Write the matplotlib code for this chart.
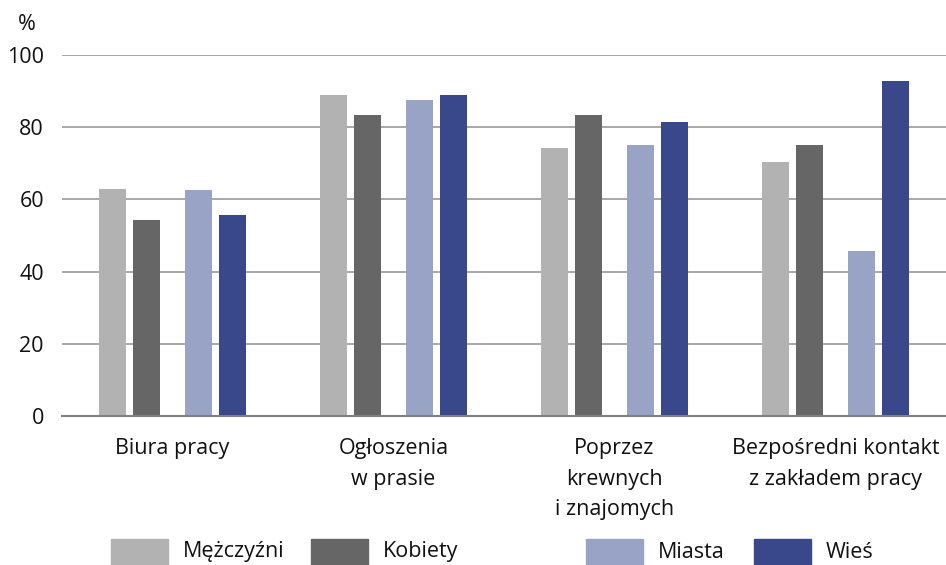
import matplotlib
matplotlib.use("Agg")
import matplotlib.pyplot as plt
import matplotlib.patches as mpatches
import numpy as np

plt.rcParams['font.family'] = ['Open Sans', 'DejaVu Sans']

categories = ["Biura pracy", "Ogłoszenia\nw prasie", "Poprzez\nkrewnych\ni znajomych",
              "Bezpośredni kontakt\nz zakładem pracy"]
series_names = ["Mężczyźni", "Kobiety", "Miasta", "Wieś"]
mezczyzni = [62.9, 88.9, 74.2, 70.4]
kobiety = [54.3, 83.4, 83.4, 75.1]
miasta = [62.6, 87.5, 75.1, 45.7]
wies = [55.7, 88.9, 81.4, 92.8]
yticks = [0, 20, 40, 60, 80, 100]

colors = ["#b2b2b2", "#666666", "#98a3c5", "#39478b"]
offsets = [-0.272, -0.119, 0.119, 0.273]
width = 0.122
fs = 15.5

fig = plt.figure(figsize=(9.46, 5.65), dpi=100)
ax = fig.add_axes([62/946, 1-416/565, 1-62/946, (416-55)/565])

x = np.arange(len(categories))
for vals, c, off in zip([mezczyzni, kobiety, miasta, wies], colors, offsets):
    ax.bar(x + off, vals, width=width, color=c, zorder=3)

ax.set_ylim(0, 100)
ax.set_xlim(-0.5, 3.5)
ax.set_yticks(yticks)
ax.yaxis.grid(True, color="#9a9a9a", linewidth=1.2, zorder=0)
ax.set_axisbelow(True)
for s in ["top", "right", "left"]:
    ax.spines[s].set_visible(False)
ax.spines["bottom"].set_color("#808080")
ax.spines["bottom"].set_linewidth(1.5)
ax.spines["bottom"].set_zorder(4)
ax.tick_params(axis="y", length=0, pad=13, labelsize=fs, colors="#111111")
ax.tick_params(axis="x", length=0, pad=16, labelsize=fs, colors="#111111")
ax.set_xticks(x)
ax.set_xticklabels(categories, linespacing=1.58)

fig.text(27/946, 1-24/565, "%", fontsize=fs, ha="center", va="center", color="#111111")

leg_patch_x = [111, 311, 586, 754]
for hx, c, name in zip(leg_patch_x, colors, series_names):
    fig.patches.append(mpatches.Rectangle((hx/946, 0), 57/946, 26/565,
                                          transform=fig.transFigure, color=c))
    fig.text((hx + 72)/946, 1-552/565, name, fontsize=fs, ha="left", va="center",
             color="#111111")

fig.savefig("out.png", dpi=100)
